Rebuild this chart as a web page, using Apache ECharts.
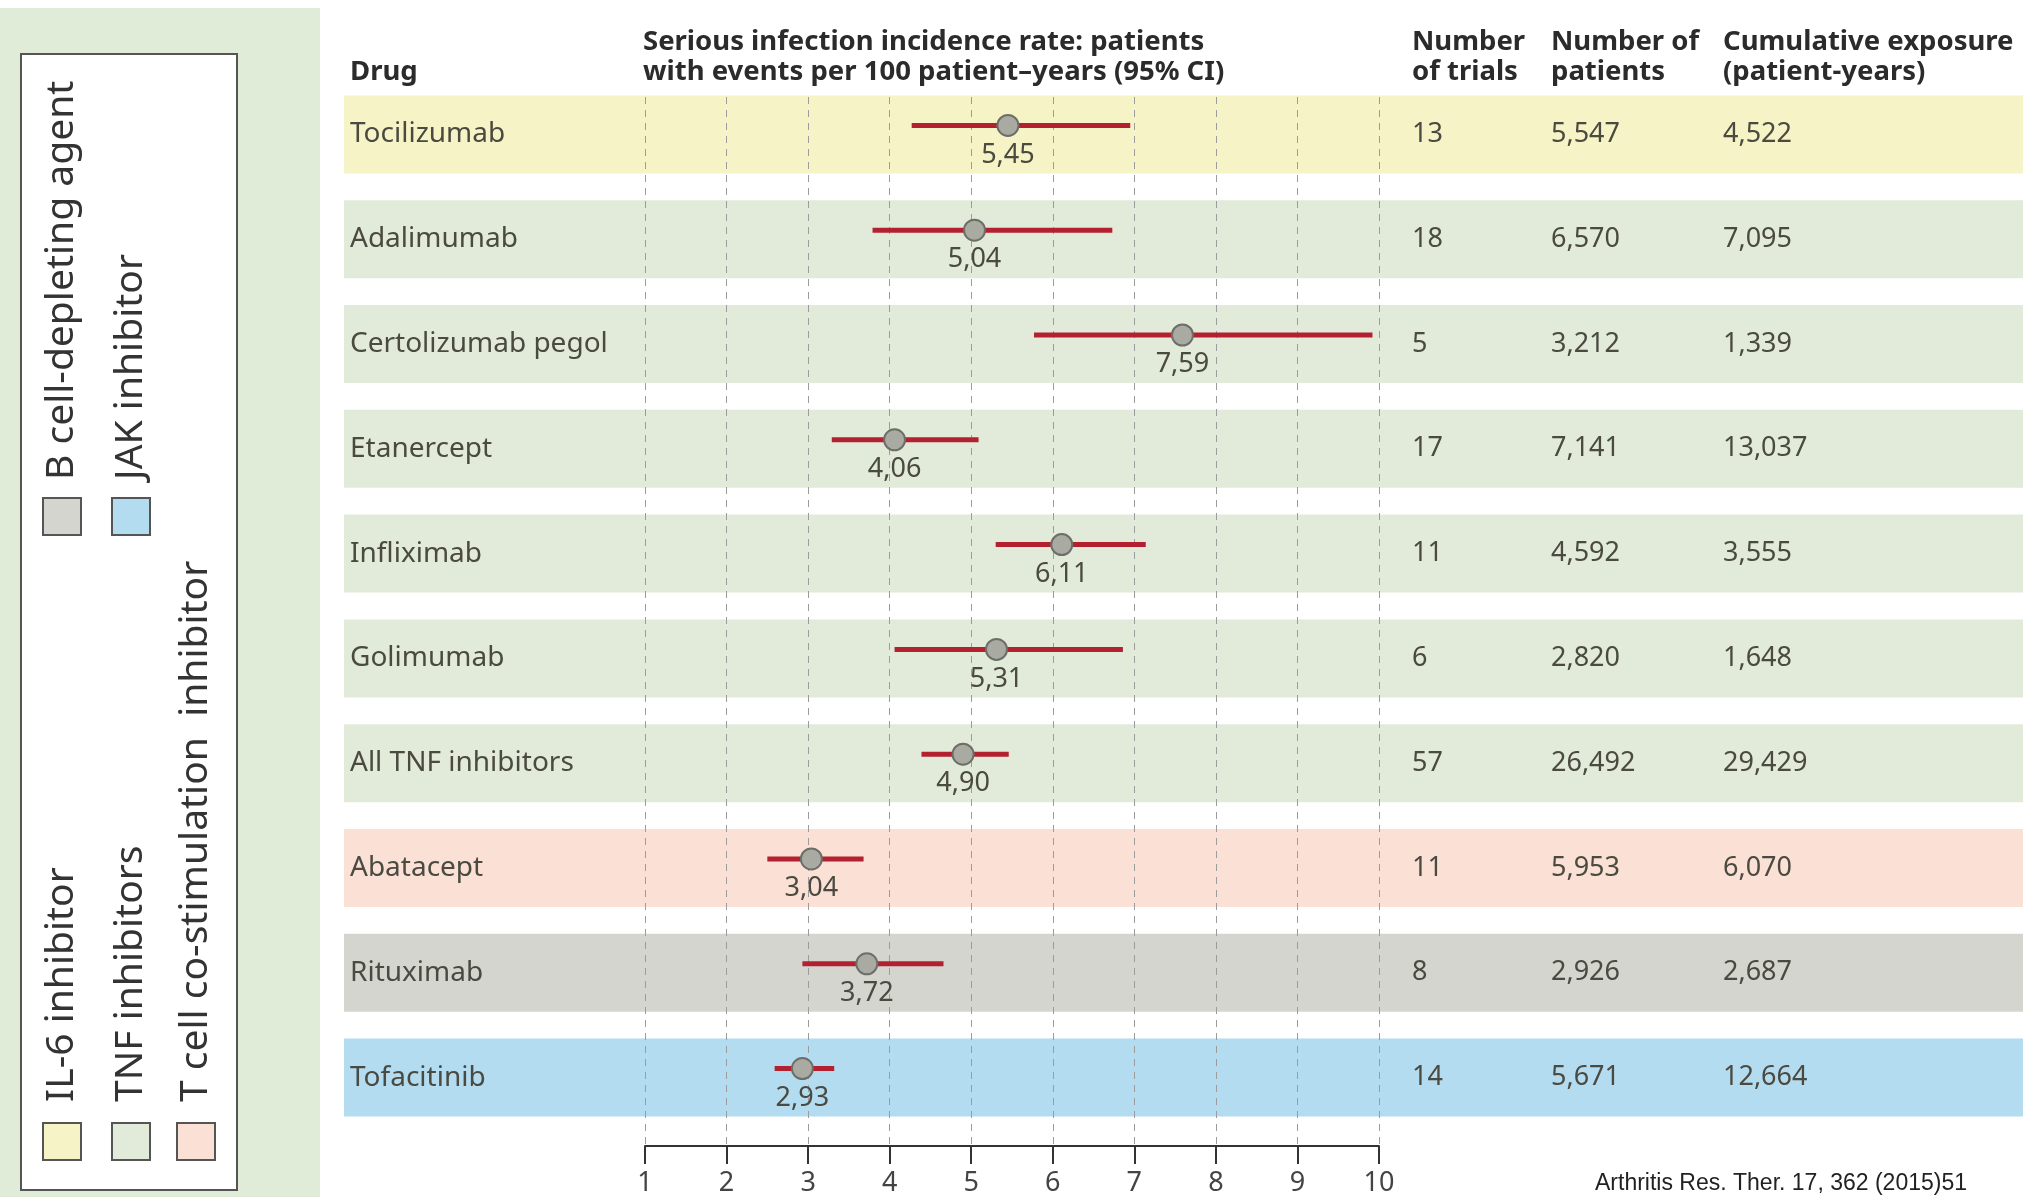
<!DOCTYPE html>
<html>
<head>
<meta charset="utf-8">
<title>Serious infection incidence rate</title>
<script src="https://cdn.jsdelivr.net/npm/echarts@6/dist/echarts.min.js"></script>
<style>
  html, body { margin: 0; padding: 0; background: #fff; }
  #chart { width: 2033px; height: 1197px; }
</style>
</head>
<body>
<div id="chart"></div>
<script>
// data
var drugs = ['Tocilizumab', 'Adalimumab', 'Certolizumab pegol', 'Etanercept', 'Infliximab',
  'Golimumab', 'All TNF inhibitors', 'Abatacept', 'Rituximab', 'Tofacitinib'];
var drugClass = ['il6', 'tnf', 'tnf', 'tnf', 'tnf', 'tnf', 'tnf', 'tcell', 'bcell', 'jak'];
var rate = [5.45, 5.04, 7.59, 4.06, 6.11, 5.31, 4.90, 3.04, 3.72, 2.93];
var ciLow = [4.27, 3.79, 5.77, 3.29, 5.30, 4.06, 4.39, 2.50, 2.93, 2.59];
var ciHigh = [6.95, 6.73, 9.92, 5.09, 7.14, 6.86, 5.46, 3.68, 4.66, 3.32];
var trials = ['13', '18', '5', '17', '11', '6', '57', '11', '8', '14'];
var patients = ['5,547', '6,570', '3,212', '7,141', '4,592', '2,820', '26,492', '5,953', '2,926', '5,671'];
var exposure = ['4,522', '7,095', '1,339', '13,037', '3,555', '1,648', '29,429', '6,070', '2,687', '12,664'];

var classKeys = ['il6', 'tnf', 'tcell', 'bcell', 'jak'];
var classNames = ['IL-6 inhibitor', 'TNF inhibitors', 'T cell co-stimulation  inhibitor',
  'B cell-depleting agent', 'JAK inhibitor'];

var bandColors = {
  il6: '#f6f3c6', tnf: '#e2ebd9', tcell: '#fbe0d5', bcell: '#d5d5d0', jak: '#b3dcf1'
};

var FONT = 'Noto Sans';
var TXT = '#4a4a40';
var TOP = 82, BOTTOM = 67;

var myChart = echarts.init(document.getElementById('chart'));

// one narrow grid per text column, labels drawn by a category axis
function labelAxis(gridIndex, margin, values, size) {
  return {
    gridIndex: gridIndex, type: 'category', data: drugs, inverse: true, z: 3,
    axisLine: { show: false }, axisTick: { show: false }, splitLine: { show: false },
    axisLabel: {
      inside: true, margin: margin, align: 'left', fontSize: size || 27, fontFamily: FONT, color: TXT,
      formatter: function (v, i) { return values ? values[i] : v; }
    }
  };
}

function renderCI(params, api) {
  var y = api.value(0);
  var lo = api.coord([api.value(1), y]);
  var hi = api.coord([api.value(2), y]);
  var mid = api.coord([api.value(3), y]);
  var dy = -9;
  return {
    type: 'group',
    children: [
      { type: 'line', shape: { x1: lo[0], y1: lo[1] + dy, x2: hi[0], y2: hi[1] + dy },
        style: { stroke: '#b3202f', lineWidth: 5 } },
      { type: 'circle', shape: { cx: mid[0], cy: mid[1] + dy, r: 10.5 },
        style: { fill: '#a9aba3', stroke: '#6c6e67', lineWidth: 2 } },
      { type: 'text', x: mid[0], y: mid[1] + dy + 16,
        style: { text: api.value(3).toFixed(2).replace('.', ','), fontSize: 27, fontFamily: FONT,
          fill: TXT, align: 'center', verticalAlign: 'top' } }
    ]
  };
}

// legend (rotated, inside the green side panel)
var legendPos = [
  { x: 62, sq: 1123, ty: 1102 },
  { x: 131, sq: 1123, ty: 1102 },
  { x: 196, sq: 1123, ty: 1102 },
  { x: 62, sq: 498, ty: 480 },
  { x: 131, sq: 498, ty: 480 }
];
var graphics = [
  { type: 'rect', z: -10, shape: { x: 0, y: 8, width: 320, height: 1189 }, style: { fill: '#e0ecd8' } },
  { type: 'rect', z: -9, shape: { x: 21, y: 54, width: 216, height: 1136 },
    style: { fill: '#fff', stroke: '#555', lineWidth: 2 } }
];
classKeys.forEach(function (k, i) {
  var p = legendPos[i];
  graphics.push({ type: 'rect', shape: { x: p.x - 19, y: p.sq, width: 38, height: 37 },
    style: { fill: bandColors[k], stroke: '#555', lineWidth: 2 } });
  graphics.push({ type: 'text', x: p.x, y: p.ty, rotation: Math.PI / 2,
    style: { text: classNames[i], fontSize: 39, fontFamily: FONT, fill: '#333',
      align: 'left', verticalAlign: 'middle' } });
});
// column headers
var headStyle = { fontSize: 27.5, fontWeight: 'bold', fontFamily: FONT, fill: '#2b2b2b', lineHeight: 30, verticalAlign: 'top' };
[
  [350, 'Drug'],
  [643, 'Serious infection incidence rate: patients\nwith events per 100 patient\u2013years (95% CI)'],
  [1412, 'Number\nof trials'],
  [1551, 'Number of\npatients'],
  [1723, 'Cumulative exposure\n(patient-years)']
].forEach(function (h) {
  var lines = h[1].split('\n').length;
  graphics.push({ type: 'text', x: h[0], y: lines === 1 ? 57 : 27,
    style: Object.assign({ text: h[1] }, headStyle) });
});
graphics.push({ type: 'text', x: 1595, y: 1184,
  style: { text: 'Arthritis Res. Ther. 17, 362 (2015)51', fontSize: 23, fontFamily: 'Liberation Sans',
    fill: '#222', verticalAlign: 'middle' } });

var option = {
  animation: false,
  backgroundColor: '#fff',
  grid: [
    { left: 344, right: 10, top: TOP, bottom: BOTTOM },
    // plot grid runs from the first band's top edge down to the axis line
    { left: 645, width: 734, top: 97, bottom: 51 },
    { left: 1412, width: 100, top: TOP, bottom: BOTTOM },
    { left: 1551, width: 100, top: TOP, bottom: BOTTOM },
    { left: 1723, width: 100, top: TOP, bottom: BOTTOM }
  ],
  xAxis: [
    { gridIndex: 0, type: 'value', min: 0, max: 1, show: false },
    {
      gridIndex: 1, type: 'value', min: 1, max: 10, interval: 1, position: 'bottom', z: 1,
      axisLine: { show: true, onZero: false, lineStyle: { color: '#333', width: 2 } },
      axisTick: { show: true, length: 18, lineStyle: { color: '#333', width: 2 } },
      axisLabel: { fontSize: 27, fontFamily: FONT, color: '#444', margin: 24 },
      splitLine: { show: true, lineStyle: { color: '#9c9c9c', width: 1, type: [7, 6] } }
    },
    { gridIndex: 2, type: 'value', show: false },
    { gridIndex: 3, type: 'value', show: false },
    { gridIndex: 4, type: 'value', show: false }
  ],
  yAxis: [
    labelAxis(0, 6, null, 28),
    // row index scale matching the band rows (104.8 px per row)
    { gridIndex: 1, type: 'value', min: -0.357, max: 9.653, inverse: true, show: false },
    labelAxis(2, 0, trials),
    labelAxis(3, 0, patients),
    labelAxis(4, 0, exposure)
  ],
  graphic: graphics,
  series: [
    {
      type: 'bar', xAxisIndex: 0, yAxisIndex: 0, z: 0, silent: true, barWidth: 78,
      data: drugs.map(function (d, i) {
        return { value: 1, itemStyle: { color: bandColors[drugClass[i]] } };
      })
    },
    {
      type: 'custom', xAxisIndex: 1, yAxisIndex: 1, z: 3, renderItem: renderCI,
      encode: { x: [1, 2, 3], y: 0 },
      data: drugs.map(function (d, i) { return [i, ciLow[i], ciHigh[i], rate[i]]; })
    }
  ]
};
myChart.setOption(option);
window.addEventListener('resize', function () {
  myChart.resize();
});
</script>
</body>
</html>
